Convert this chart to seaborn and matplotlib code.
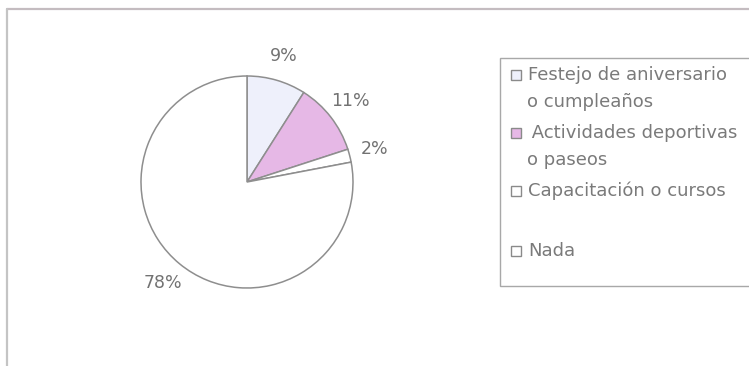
import matplotlib
matplotlib.use("Agg")
import matplotlib.pyplot as plt
import seaborn as sns
from matplotlib.patches import Rectangle
from matplotlib.lines import Line2D

# ---- data ----
categories = ["Festejo de aniversario\no cumpleaños",
              " Actividades deportivas\no paseos",
              "Capacitación o cursos",
              "Nada"]
values = [9, 11, 2, 78]
colors = ["#eef0fb", "#e6b8e6", "#ffffff", "#ffffff"]

sns.set_theme(style="white")
plt.rcParams["font.family"] = ["DejaVu Sans"]

W, H = 749, 366
fig = plt.figure(figsize=(W / 100, H / 100), dpi=100)
fig.patch.set_facecolor("white")

# pie axes: center (247,182) px, radius 106 px, limits +-1.6
cx, cy, r = 247, 182, 106
half = 1.6 * r
ax = fig.add_axes([(cx - half) / W, (H - cy - half) / H, 2 * half / W, 2 * half / H])
wedges, texts, autotexts = ax.pie(
    values, colors=colors, startangle=90, counterclock=False,
    autopct="%1.0f%%", pctdistance=1.24,
    wedgeprops=dict(edgecolor="#8e8e8e", linewidth=1.1),
    textprops=dict(color="#727272", fontsize=12.5))
ax.set_xlim(-1.6, 1.6)
ax.set_ylim(-1.6, 1.6)
ax.set_aspect("equal")
ax.axis("off")

def px(x, y):
    return x / W, 1 - y / H

# outer frame (top and left edges visible)
fig.add_artist(Line2D([7 / W, 1.0], [1 - 9 / H, 1 - 9 / H], transform=fig.transFigure,
                      color="#c4bcc0", linewidth=1.6))
fig.add_artist(Line2D([7 / W, 7 / W], [1 - 9 / H, 0.0], transform=fig.transFigure,
                      color="#c4c4c4", linewidth=1.6))

# legend box
lx0, ly0, ly1 = 500, 58, 286
fig.add_artist(Rectangle(px(lx0, ly1), (W + 10 - lx0) / W, (ly1 - ly0) / H,
                         transform=fig.transFigure, facecolor="white",
                         edgecolor="#a8a8a8", linewidth=1.0, clip_on=False))

baselines = [80, 138, 196, 256]
line_gap = 27
text_x = [528, 526, 528, 528]
for lab, col, yb, tx in zip(categories, colors, baselines, text_x):
    lines = lab.split("\n")
    fig.add_artist(Rectangle(px(511, yb), 10 / W, 10 / H, transform=fig.transFigure,
                             facecolor=col, edgecolor="#8a8a8a", linewidth=1.0))
    for i, ln in enumerate(lines):
        x = tx if i == 0 else 527
        fig.text(x / W, 1 - (yb + i * line_gap) / H, ln, color="#7a7a7a",
                 fontsize=13, va="baseline", ha="left")

fig.savefig("out.png", dpi=100, facecolor="white")
